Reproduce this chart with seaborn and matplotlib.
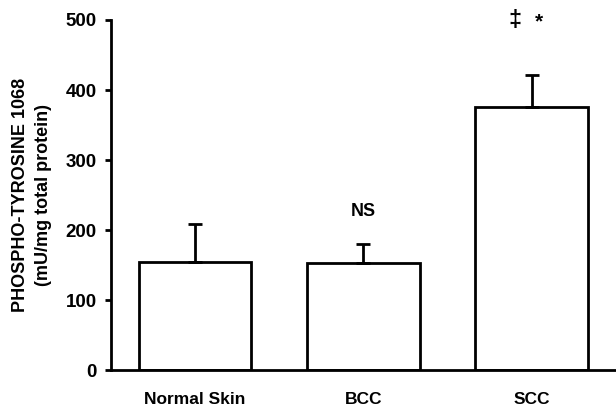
import matplotlib
matplotlib.use("Agg")
import matplotlib.pyplot as plt
import seaborn as sns
import pandas as pd

# values
groups = ["Normal Skin", "BCC", "SCC"]
means = [155, 153, 376]
sem_upper = [53, 27, 45]
y_ticks = [0, 100, 200, 300, 400, 500]
# significance marks: (bar index, text, height in data units)
marks = [(1, "NS", 226), (2, "\u2021", 499), (2, "*", 497)]

sns.set_style("ticks")
plt.rcParams['font.family'] = ['Liberation Sans', 'DejaVu Sans']
plt.rcParams['font.weight'] = 'bold'
plt.rcParams['text.color'] = 'black'
plt.rcParams['axes.labelcolor'] = 'black'
plt.rcParams['xtick.color'] = 'black'
plt.rcParams['ytick.color'] = 'black'
plt.rcParams['axes.edgecolor'] = 'black'

df = pd.DataFrame({"group": groups, "value": means})

fig = plt.figure(figsize=(6.16, 4.08), dpi=100)
ax = fig.add_axes([0.180, 0.093, 0.82, 0.858])

sns.barplot(ax=ax, data=df, x="group", y="value", color="white",
            edgecolor="black", linewidth=2, width=0.67, saturation=1,
            errorbar=None)

# one-sided error bars (upper only)
ax.errorbar(range(len(groups)), means, yerr=[[0] * len(groups), sem_upper],
            fmt="none", ecolor="black", elinewidth=2, capsize=5, capthick=2)

# the two marks above SCC sit left/right of the bar centre
offsets = {"NS": 0.0, "\u2021": -0.10, "*": 0.045}
sizes = {"NS": 13, "\u2021": 17, "*": 15}
for i, txt, yy in marks:
    ax.text(i + offsets[txt], yy, txt, ha="center", va="center",
            fontsize=sizes[txt], fontweight="bold", clip_on=False)

ax.set_xlim(-0.5, 2.5)
ax.set_ylim(0, 500)
ax.set_yticks(y_ticks)

sns.despine(ax=ax)
ax.spines['left'].set_linewidth(2)
ax.spines['bottom'].set_linewidth(2)
ax.tick_params(axis='y', length=4, width=2, labelsize=13.5, pad=6)
ax.tick_params(axis='x', length=0, labelsize=12.5, pad=16)
for lab in ax.get_xticklabels() + ax.get_yticklabels():
    lab.set_fontweight("bold")

ax.set_xlabel("")
ax.set_ylabel("PHOSPHO-TYROSINE 1068\n(mU/mg total protein)", fontsize=13,
              fontweight="bold", labelpad=10, linespacing=1.45)

fig.savefig("out.png", dpi=100)
